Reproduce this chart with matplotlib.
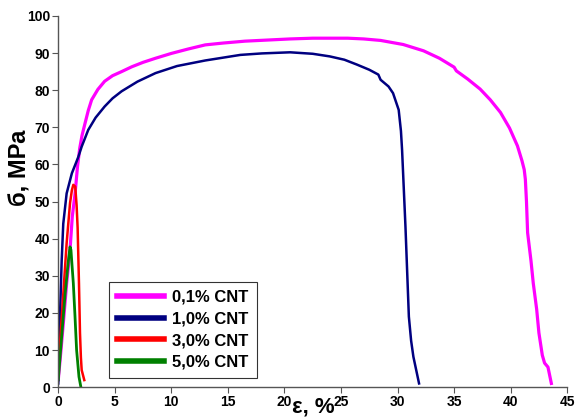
import matplotlib.pyplot as plt

plt.rcParams['font.family'] = ['Liberation Sans', 'DejaVu Sans']
plt.rcParams['font.weight'] = 'bold'

# 0,1% CNT
x_01 = [0.0, 0.24, 0.44, 0.74, 1.04, 1.24, 1.48, 1.7, 1.9, 2.1, 2.36, 2.65, 2.95, 3.5, 4.1,
        4.8, 5.6, 6.5, 7.5, 8.6, 10.0, 11.5, 13.0, 14.6, 16.5, 18.5, 20.5, 22.5, 25.6,
        27.0, 28.5, 30.5, 32.3, 33.7, 35.0, 35.2, 36.2, 37.3, 38.2, 39.1, 39.9, 40.6,
        41.0, 41.2, 41.3, 41.4, 41.5, 41.8, 42.0, 42.3, 42.5, 42.8, 43.0, 43.3, 43.6]
y_01 = [2.0, 10.0, 17.0, 28.0, 37.0, 46.0, 52.0, 59.4, 64.4, 67.8, 71.0, 74.5, 77.4, 80.2,
        82.4, 83.9, 85.0, 86.3, 87.5, 88.6, 89.9, 91.1, 92.2, 92.7, 93.2, 93.5, 93.8,
        94.0, 94.0, 93.8, 93.4, 92.3, 90.6, 88.6, 86.2, 85.2, 83.0, 80.3, 77.4, 74.0,
        69.8, 65.0, 61.0, 58.6, 56.0, 50.0, 41.6, 34.0, 28.0, 21.0, 14.6, 8.6, 6.5, 5.4, 1.0]

# 1,0% CNT
x_10 = [0.0, 0.08, 0.15, 0.3, 0.44, 0.74, 1.2, 1.77, 2.07, 2.65, 3.3, 4.1, 4.8, 5.6, 7.0,
        8.6, 10.5, 13.0, 16.1, 18.0, 20.5, 22.5, 24.0, 25.3, 26.4, 27.5, 28.3, 28.5,
        29.2, 29.6, 30.1, 30.3, 30.4, 30.7, 31.0, 31.2, 31.4, 31.9]
y_10 = [1.0, 9.0, 19.0, 34.0, 44.0, 52.2, 57.6, 62.0, 64.8, 69.3, 72.6, 75.6, 77.8, 79.7,
        82.3, 84.6, 86.5, 88.0, 89.5, 89.9, 90.2, 89.8, 89.1, 88.2, 86.9, 85.5, 84.2,
        82.8, 81.0, 79.2, 74.7, 69.0, 63.9, 43.2, 19.0, 12.5, 8.2, 1.0]

# 3,0% CNT
x_30 = [0.0, 0.15, 0.44, 0.74, 1.04, 1.2, 1.33, 1.5, 1.62, 1.71, 1.83, 1.92, 2.0, 2.07, 2.3]
y_30 = [8.0, 11.8, 25.0, 38.8, 49.6, 53.0, 54.5, 54.0, 49.0, 43.0, 28.0, 14.6, 8.0, 4.6, 1.9]

# 5,0% CNT
x_50 = [0.0, 0.3, 0.6, 0.89, 1.04, 1.12, 1.2, 1.33, 1.48, 1.62, 1.83, 2.0]
y_50 = [2.0, 13.6, 25.0, 34.0, 37.8, 37.0, 33.5, 28.0, 19.0, 10.0, 2.8, 0.0]

labels = ['0,1% CNT', '1,0% CNT', '3,0% CNT', '5,0% CNT']

fig = plt.figure(figsize=(5.77, 4.19), dpi=100)
ax = fig.add_axes([0.101, 0.076, 0.882, 0.886])

ax.plot(x_01, y_01, color='#FF00FF', lw=2.3, label=labels[0])
ax.plot(x_10, y_10, color='#000080', lw=1.8, label=labels[1])
ax.plot(x_30, y_30, color='#FF0000', lw=1.8, label=labels[2])
ax.plot(x_50, y_50, color='#008000', lw=2.0, label=labels[3])

ax.set_xlim(0, 45)
ax.set_ylim(0, 100)
ax.set_xticks(range(0, 46, 5))
ax.set_yticks(range(0, 101, 10))
ax.spines['top'].set_visible(False)
ax.spines['right'].set_visible(False)
for s in ('left', 'bottom'):
    ax.spines[s].set_color('#555555')
    ax.spines[s].set_linewidth(1.0)
ax.tick_params(labelsize=10, length=4, color='#555555', pad=2)
for t in ax.get_xticklabels() + ax.get_yticklabels():
    t.set_fontweight('bold')

leg = ax.legend(loc='lower left', bbox_to_anchor=(0.0995, 0.024), borderaxespad=0,
                frameon=True, fancybox=False, edgecolor='black', fontsize=12,
                handlelength=2.8, handletextpad=0.5, borderpad=0.5, labelspacing=0.4)
leg.get_frame().set_linewidth(0.8)
for line in leg.get_lines():
    line.set_linewidth(4)
for t in leg.get_texts():
    t.set_fontweight('bold')

fig.text(0.035, 0.60, 'б, МРа', rotation=90, ha='center', va='center',
         fontsize=17, fontweight='bold')
fig.text(0.5425, 0.003, 'ε, %', ha='center', va='bottom', fontsize=16, fontweight='bold')

fig.savefig('out.png', dpi=100)
